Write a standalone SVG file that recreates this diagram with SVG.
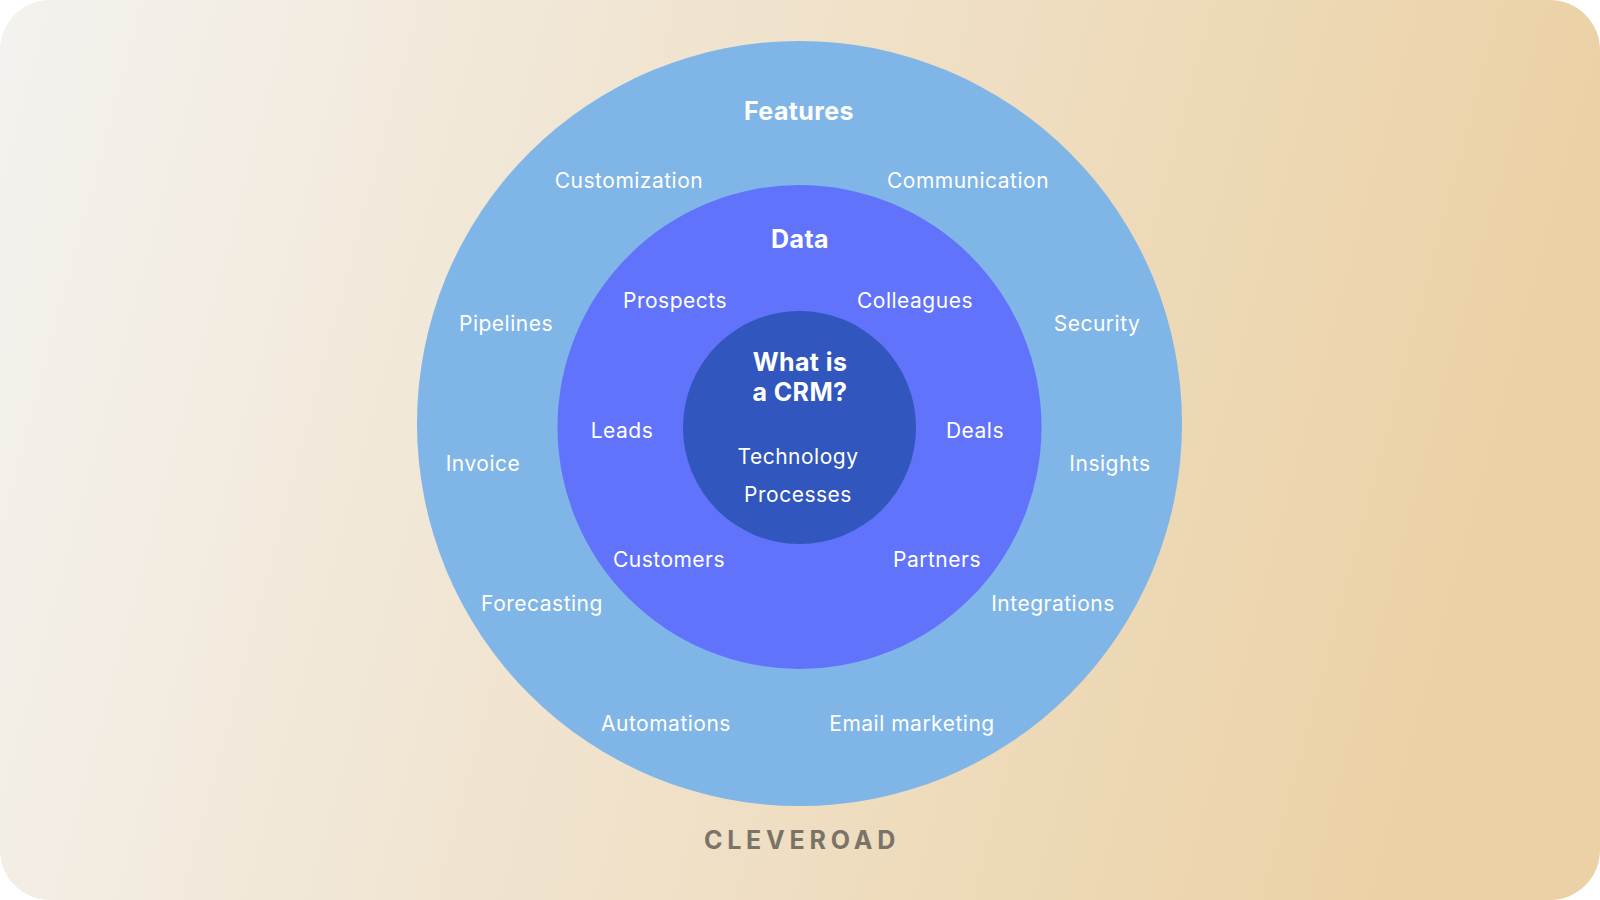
<svg xmlns="http://www.w3.org/2000/svg" width="1600" height="900" viewBox="0 0 1600 900">
<defs>
<linearGradient id="bg" x1="0" y1="0" x2="1" y2="0.15">
<stop offset="0" stop-color="#f4f2ef"/>
<stop offset="0.5" stop-color="#f0e2cb"/>
<stop offset="1" stop-color="#ebd1a5"/>
</linearGradient>
<style>
text{font-family:Inter,"Noto Sans",sans-serif;fill:#ffffff;text-anchor:middle}
.l{font-size:21px;letter-spacing:0.5px}
.h{font-size:25px;font-weight:700;letter-spacing:0.4px}
.brand{font-size:25px;font-weight:700;fill:#7a7368;letter-spacing:4.8px}
</style>
</defs>
<rect x="0" y="0" width="1600" height="900" fill="#ffffff"/>
<rect x="0" y="0" width="1600" height="900" rx="50" ry="50" fill="url(#bg)"/>
<g id="features">
<circle cx="799.5" cy="423.5" r="382.5" fill="#80b5e8"/>
<text class="h" x="799" y="120">Features</text>
<text class="l" x="629" y="188">Customization</text>
<text class="l" x="968" y="188">Communication</text>
<text class="l" x="506" y="331">Pipelines</text>
<text class="l" x="1097" y="331">Security</text>
<text class="l" x="483" y="471">Invoice</text>
<text class="l" x="1110" y="471">Insights</text>
<text class="l" x="542" y="611">Forecasting</text>
<text class="l" x="1053" y="611">Integrations</text>
<text class="l" x="666" y="731">Automations</text>
<text class="l" x="912" y="731">Email marketing</text>
</g>
<g id="data">
<circle cx="799.5" cy="427" r="242" fill="#6173fb"/>
<text class="h" x="800" y="248">Data</text>
<text class="l" x="675" y="308">Prospects</text>
<text class="l" x="915" y="308">Colleagues</text>
<text class="l" x="622" y="438">Leads</text>
<text class="l" x="975" y="438">Deals</text>
<text class="l" x="669" y="567">Customers</text>
<text class="l" x="937" y="567">Partners</text>
</g>
<g id="core">
<circle cx="799.5" cy="427.5" r="116.5" fill="#3156bd"/>
<text class="h" x="800" y="371">What is</text>
<text class="h" x="800" y="401">a CRM?</text>
<text class="l" x="798" y="464">Technology</text>
<text class="l" x="798" y="502">Processes</text>
</g>
<g id="connectors"/>
<g id="brand">
<text class="brand" x="802" y="849">CLEVEROAD</text>
</g>
</svg>
